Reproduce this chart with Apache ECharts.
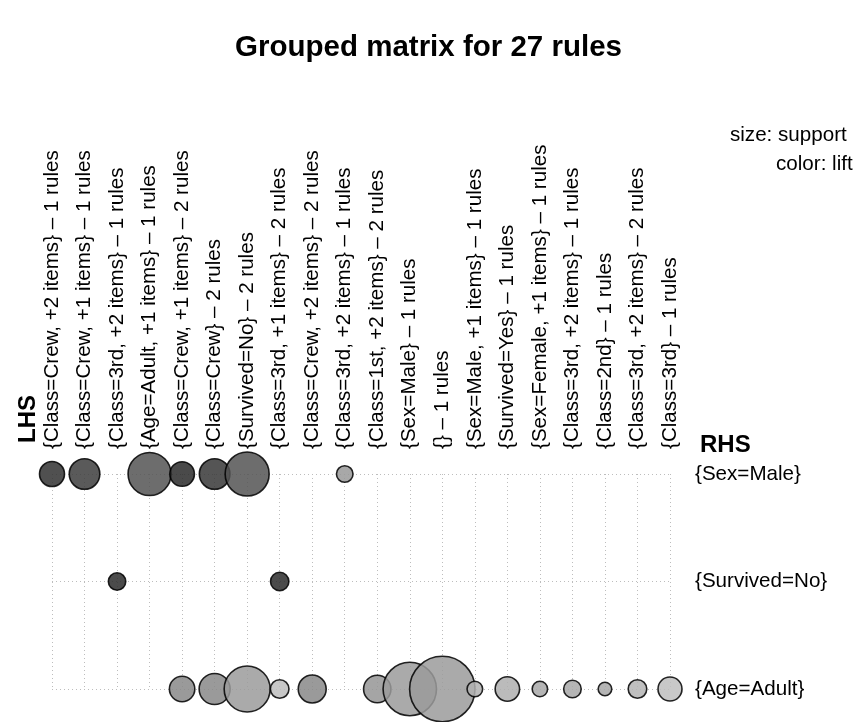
<!DOCTYPE html>
<html>
<head>
<meta charset="utf-8">
<script src="https://cdn.jsdelivr.net/npm/echarts@6/dist/echarts.min.js"></script>
<style>
html,body{margin:0;padding:0;background:#fff;}
#chart{width:857px;height:722px;}
</style>
</head>
<body>
<div id="chart"></div>
<script>
// ---- data ----
const lhsLabels = [
  '{Class=Crew, +2 items} \u2013 1 rules',
  '{Class=Crew, +1 items} \u2013 1 rules',
  '{Class=3rd, +2 items} \u2013 1 rules',
  '{Age=Adult, +1 items} \u2013 1 rules',
  '{Class=Crew, +1 items} \u2013 2 rules',
  '{Class=Crew} \u2013 2 rules',
  '{Survived=No} \u2013 2 rules',
  '{Class=3rd, +1 items} \u2013 2 rules',
  '{Class=Crew, +2 items} \u2013 2 rules',
  '{Class=3rd, +2 items} \u2013 1 rules',
  '{Class=1st, +2 items} \u2013 2 rules',
  '{Sex=Male} \u2013 1 rules',
  '{} \u2013 1 rules',
  '{Sex=Male, +1 items} \u2013 1 rules',
  '{Survived=Yes} \u2013 1 rules',
  '{Sex=Female, +1 items} \u2013 1 rules',
  '{Class=3rd, +2 items} \u2013 1 rules',
  '{Class=2nd} \u2013 1 rules',
  '{Class=3rd, +2 items} \u2013 2 rules',
  '{Class=3rd} \u2013 1 rules'
];
const rhsLabels = ['{Sex=Male}', '{Survived=No}', '{Age=Adult}'];

// one entry per bubble: LHS column index, RHS row index, support, lift
const bubbleCol = [0, 1, 3, 4, 5, 6, 9,   2, 7,   4, 5, 6, 7, 8, 10, 11, 12, 13, 14, 15, 16, 17, 18, 19];
const bubbleRow = [0, 0, 0, 0, 0, 0, 0,   1, 1,   2, 2, 2, 2, 2, 2, 2, 2, 2, 2, 2, 2, 2, 2, 2];
const support   = [0.302, 0.392, 0.592, 0.296, 0.392, 0.608, 0.167,
                   0.180, 0.196,
                   0.309, 0.399, 0.640, 0.199, 0.350, 0.341, 0.759, 0.952, 0.151, 0.293, 0.148, 0.183, 0.119, 0.199, 0.286];
const lift      = [1.254, 1.227, 1.173, 1.270, 1.240, 1.173, 1.016,
                   1.265, 1.265,
                   1.054, 1.054, 1.011, 0.930, 1.054, 1.024, 1.011, 1.011, 0.960, 0.965, 0.981, 0.981, 0.981, 0.952, 0.930];

const points = bubbleCol.map((c, i) => [c, bubbleRow[i], support[i], lift[i]]);

const FONT = '"Liberation Sans", Arial, Helvetica, sans-serif';
const chart = echarts.init(document.getElementById('chart'), null, {renderer: 'canvas'});
const dotted = {color: '#bdbdbd', width: 1, type: [1, 3]};

chart.setOption({
  backgroundColor: '#ffffff',
  animation: false,
  title: {
    text: 'Grouped matrix for 27 rules',
    left: 'center',
    top: 28,
    textStyle: {fontFamily: FONT, fontSize: 29.5, fontWeight: 'bold', color: '#000'}
  },
  grid: {left: 52, right: 187, top: 474, bottom: 33, containLabel: false},
  xAxis: {
    type: 'category',
    data: lhsLabels,
    position: 'top',
    boundaryGap: false,
    axisLine: {show: false},
    axisTick: {show: false},
    splitLine: {show: true, interval: 0, lineStyle: dotted},
    axisLabel: {interval: 0, rotate: -90, margin: 25, fontFamily: FONT, fontSize: 20.6, color: '#000'}
  },
  yAxis: {
    type: 'category',
    data: rhsLabels,
    position: 'right',
    inverse: true,
    boundaryGap: false,
    axisLine: {show: false},
    axisTick: {show: false},
    splitLine: {show: true, interval: 0, lineStyle: dotted},
    axisLabel: {interval: 0, margin: 25, align: 'left', fontFamily: FONT, fontSize: 20.6, color: '#000'}
  },
  visualMap: {
    show: false,
    type: 'continuous',
    dimension: 3,
    min: 0.93,
    max: 1.27,
    inRange: {color: ['#bebebe', '#2a2a2a']}
  },
  series: [{
    type: 'scatter',
    data: points,
    clip: false,
    symbolSize: (v) => 2 * (3.1 + 31.1 * v[2]),
    itemStyle: {opacity: 0.85, borderColor: '#000', borderWidth: 1.6}
  }],
  graphic: [
    {type: 'text', left: 730, top: 125, style: {text: 'size: support', font: '20.6px ' + FONT, fill: '#000'}},
    {type: 'text', left: 776, top: 154, style: {text: 'color: lift', font: '20.6px ' + FONT, fill: '#000'}},
    {type: 'text', x: 40, y: 443, rotation: Math.PI / 2, style: {text: 'LHS', font: 'bold 24px ' + FONT, fill: '#000', textVerticalAlign: 'bottom'}},
    {type: 'text', left: 700, top: 433, style: {text: 'RHS', font: 'bold 24px ' + FONT, fill: '#000'}}
  ]
});
</script>
</body>
</html>
